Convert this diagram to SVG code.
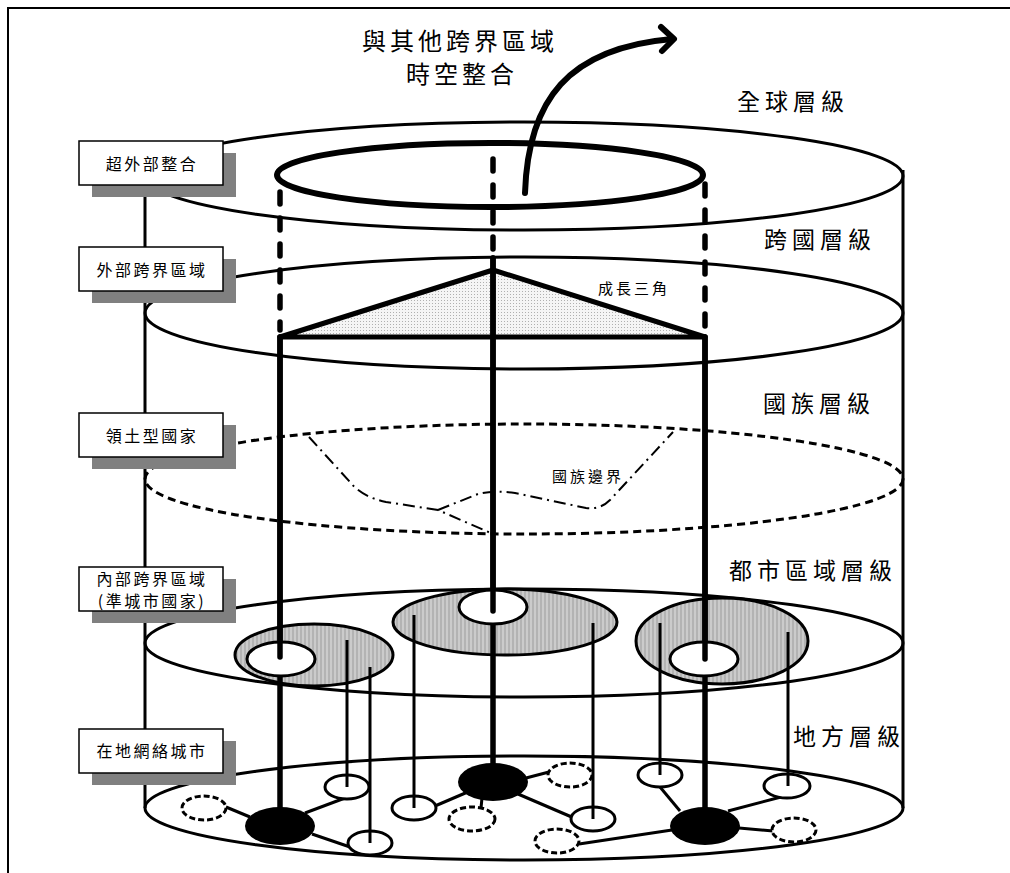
<svg xmlns="http://www.w3.org/2000/svg" width="1010" height="873" viewBox="0 0 1010 873">
<defs>
<pattern id="stripes" patternUnits="userSpaceOnUse" width="4" height="4"><rect width="4" height="4" fill="#cbcbcb"/><rect width="2" height="4" fill="#b3b3b3"/></pattern>
<pattern id="dots" patternUnits="userSpaceOnUse" width="3" height="3"><rect width="3" height="3" fill="#f5f5f5"/><rect width="1" height="1" fill="#b0b0b0"/></pattern>
</defs>
<style>
.lv{fill:none;stroke:#000;stroke-width:3}
.t{font-family:"Noto Sans CJK TC","Noto Sans CJK SC",sans-serif;fill:#000;text-anchor:middle}
.big{font-size:23px;letter-spacing:5px}
.ttl{font-size:24px;letter-spacing:4px}
.sm{font-size:15px;letter-spacing:3px}
.bx{font-size:16px;letter-spacing:2.5px}
.shadow{fill:#808080}
.box{fill:#fff;stroke:#000;stroke-width:1.5}
.col{stroke:#000;stroke-width:5.5;fill:none;stroke-linecap:round}
.dcol{stroke:#000;stroke-width:5.5;fill:none;stroke-linecap:round;stroke-dasharray:12 14}
.thin{stroke:#000;stroke-width:3;fill:none}
.wn{fill:#fff;stroke:#000;stroke-width:3}
.dn{fill:#fff;stroke:#000;stroke-width:3;stroke-dasharray:6 3}
.bn{fill:#000}
.gray{fill:url(#stripes);stroke:#000;stroke-width:3}
</style>
<rect width="1010" height="873" fill="#fff"/>
<path d="M8,880 V8 H1012" fill="none" stroke="#000" stroke-width="2"/>

<g id="cylinder">
<ellipse id="level-global" class="lv" cx="524" cy="176" rx="379" ry="54"/>
<ellipse id="level-transnational" class="lv" cx="524" cy="313" rx="379" ry="56"/>
<ellipse id="level-national" class="lv" cx="524" cy="479" rx="379" ry="55" stroke-width="3.5" stroke-dasharray="8 5"/>
<ellipse id="level-urban" class="lv" cx="524" cy="643" rx="379" ry="54"/>
<ellipse id="level-local" class="lv" cx="524" cy="808" rx="379" ry="52"/>
<line x1="145" y1="176" x2="145" y2="808" stroke="#000" stroke-width="3"/>
<line x1="903" y1="170" x2="903" y2="808" stroke="#000" stroke-width="3"/>
</g>

<g id="national-boundary" fill="none" stroke="#000" stroke-width="2" stroke-dasharray="12 5 2 5">
<path d="M309,437 L350,482 Q362,497 386,502 L438,510 L493,534"/>
<path d="M438,510 L478,494 Q495,490 515,493 L586,508 Q600,510 610,500 L673,432"/>
</g>

<g id="supra-ring">
<ellipse cx="490" cy="175" rx="213" ry="32" fill="none" stroke="#000" stroke-width="6"/>
</g>

<g id="growth-triangle">
<polygon points="493,270 280,337 705,337" fill="url(#dots)" stroke="#000" stroke-width="5" stroke-linejoin="round"/>
</g>

<g id="urban-regions">
<ellipse class="gray" cx="314" cy="655" rx="79" ry="31"/>
<ellipse class="gray" cx="505" cy="622" rx="112" ry="33"/>
<ellipse class="gray" cx="722" cy="641" rx="86" ry="43"/>
</g>

<g id="columns">
<line class="dcol" x1="280" y1="192" x2="280" y2="330"/>
<line class="dcol" x1="493" y1="159" x2="493" y2="250"/>
<line class="dcol" x1="705" y1="184" x2="705" y2="330"/>
<line class="col" x1="280" y1="337" x2="280" y2="826"/>
<line class="col" x1="493" y1="258" x2="493" y2="782"/>
<line class="col" x1="705" y1="337" x2="705" y2="826"/>
</g>

<g id="urban-cores">
<ellipse class="wn" cx="281" cy="659" rx="34" ry="17"/>
<ellipse class="wn" cx="493" cy="607" rx="34" ry="17"/>
<ellipse class="wn" cx="704" cy="659" rx="34" ry="17"/>
</g>
<g id="columns-upper">
<line class="col" x1="280" y1="337" x2="280" y2="657"/>
<line class="col" x1="493" y1="258" x2="493" y2="611"/>
<line class="col" x1="705" y1="337" x2="705" y2="659"/>
</g>

<g id="connectors" class="thin">
<line x1="226" y1="807" x2="250" y2="817"/>
<line x1="305" y1="813" x2="345" y2="798"/>
<line x1="312" y1="834" x2="350" y2="847"/>
<line x1="435" y1="806" x2="470" y2="791"/>
<line x1="482" y1="798" x2="481" y2="808"/>
<line x1="526" y1="778" x2="549" y2="772"/>
<line x1="518" y1="794" x2="574" y2="818"/>
<line x1="660" y1="787" x2="680" y2="811"/>
<line x1="728" y1="811" x2="781" y2="797"/>
<line x1="739" y1="828" x2="773" y2="831"/>
<line x1="579" y1="844" x2="672" y2="830"/>
</g>

<g id="local-nodes">
<ellipse class="wn" cx="347" cy="787" rx="22" ry="12"/>
<ellipse class="wn" cx="370" cy="843" rx="22" ry="12"/>
<ellipse class="wn" cx="414" cy="808" rx="22" ry="12"/>
<ellipse class="wn" cx="593" cy="819" rx="22" ry="12"/>
<ellipse class="wn" cx="660" cy="775" rx="22" ry="12"/>
<ellipse class="wn" cx="787" cy="786" rx="23" ry="12"/>
<ellipse class="dn" cx="204" cy="808" rx="22" ry="12"/>
<ellipse class="dn" cx="570" cy="775" rx="22" ry="12"/>
<ellipse class="dn" cx="472" cy="819" rx="23" ry="12"/>
<ellipse class="dn" cx="557" cy="841" rx="22" ry="12"/>
<ellipse class="dn" cx="794" cy="830" rx="22" ry="12"/>
<ellipse class="bn" cx="280" cy="826" rx="35" ry="19"/>
<ellipse class="bn" cx="493" cy="782" rx="35" ry="19"/>
<ellipse class="bn" cx="705" cy="826" rx="35" ry="19"/>
</g>

<g id="links-down" class="thin">
<line x1="347" y1="640" x2="347" y2="787"/>
<line x1="370" y1="667" x2="370" y2="843"/>
<line x1="414" y1="615" x2="414" y2="808"/>
<line x1="593" y1="623" x2="593" y2="819"/>
<line x1="660" y1="623" x2="660" y2="775"/>
<line x1="788" y1="632" x2="788" y2="786"/>
</g>

<g id="integration-arrow" fill="none" stroke="#000" stroke-width="6" stroke-linecap="round" stroke-linejoin="round">
<path d="M525,193 C528,100 568,48 672,39"/>
<polyline points="661,27 674,39 662,51"/>
</g>

<g id="labels">
<text class="t ttl" x="460" y="50">與其他跨界區域</text>
<text class="t ttl" x="462" y="83">時空整合</text>
<text class="t big" x="793" y="110">全球層級</text>
<text class="t big" x="820" y="248">跨國層級</text>
<text class="t big" x="819" y="412">國族層級</text>
<text class="t big" x="813" y="579">都市區域層級</text>
<text class="t big" x="849" y="745">地方層級</text>
<text class="t sm" x="634" y="294">成長三角</text>
<text class="t sm" x="588" y="482">國族邊界</text>
</g>

<g id="box-supra">
<rect class="shadow" x="92" y="153" width="144" height="44"/>
<rect class="box" x="79" y="141" width="144" height="44"/>
<text class="t bx" x="152" y="170">超外部整合</text>
</g>
<g id="box-external">
<rect class="shadow" x="92" y="259" width="144" height="44"/>
<rect class="box" x="79" y="247" width="144" height="44"/>
<text class="t bx" x="152" y="276">外部跨界區域</text>
</g>
<g id="box-territorial">
<rect class="shadow" x="92" y="425" width="144" height="44"/>
<rect class="box" x="79" y="413" width="144" height="44"/>
<text class="t bx" x="152" y="442">領土型國家</text>
</g>
<g id="box-internal">
<rect class="shadow" x="92" y="579" width="144" height="44"/>
<rect class="box" x="79" y="567" width="144" height="44"/>
<text class="t bx" x="152" y="585">內部跨界區域</text>
<text class="t bx" x="152" y="607">(準城市國家)</text>
</g>
<g id="box-local">
<rect class="shadow" x="92" y="741" width="144" height="44"/>
<rect class="box" x="79" y="729" width="144" height="44"/>
<text class="t bx" x="152" y="757">在地網絡城市</text>
</g>
</svg>
